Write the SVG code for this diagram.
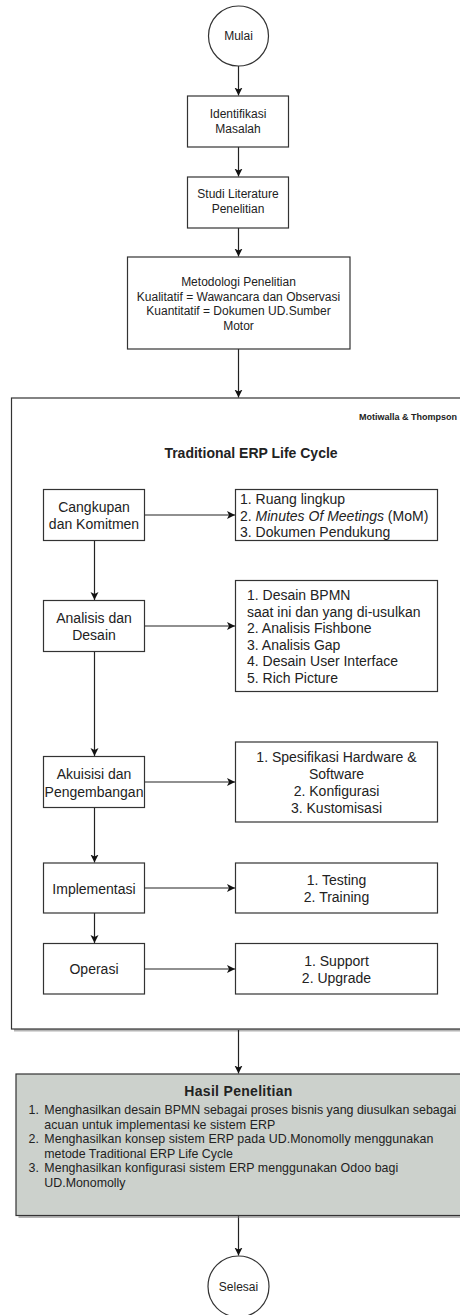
<svg xmlns="http://www.w3.org/2000/svg" width="460" height="1315" viewBox="0 0 460 1315">
<defs>
<style>
.box{fill:#fff;stroke:#333;stroke-width:1.2}
.sh{fill:#777;opacity:0.55}
.t12{font-family:"Liberation Sans",Arial,sans-serif;font-size:12px;fill:#222}
.t14{font-family:"Liberation Sans",Arial,sans-serif;font-size:14px;fill:#222}
.li{font-family:"Liberation Sans",Arial,sans-serif;font-size:12.4px;fill:#222}
.c{text-anchor:middle}
.b{font-weight:bold}
.ln{stroke:#222;stroke-width:1.2;fill:none;marker-end:url(#arr)}
</style>
<marker id="arr" viewBox="0 0 10 10" refX="10" refY="5" markerWidth="8" markerHeight="9" orient="auto" markerUnits="userSpaceOnUse">
<path d="M0,0 L10,5 L0,10 L2.5,5 z" fill="#111"/>
</marker>
</defs>
<rect width="460" height="1315" fill="#fff"/>

<g id="container">
<rect x="14" y="400.5" width="500" height="631" class="sh"/>
<rect x="11.5" y="398" width="500" height="631" class="box"/>
<text x="359" y="420" class="b" font-family="'Liberation Sans',Arial,sans-serif" font-size="9" fill="#222">Motiwalla &amp; Thompson</text>
<text x="251" y="458" class="t14 c b">Traditional ERP Life Cycle</text>
</g>

<g id="connectors">
<line class="ln" x1="238.5" y1="66" x2="238.5" y2="95.5"/>
<line class="ln" x1="238.5" y1="147" x2="238.5" y2="176.5"/>
<line class="ln" x1="238.5" y1="228" x2="238.5" y2="256.5"/>
<line class="ln" x1="238.5" y1="349" x2="238.5" y2="397.5"/>
<line class="ln" x1="144.5" y1="515" x2="235" y2="515"/>
<line class="ln" x1="94.5" y1="540.5" x2="94.5" y2="600"/>
<line class="ln" x1="144.5" y1="626" x2="235" y2="626"/>
<line class="ln" x1="94.5" y1="651" x2="94.5" y2="756"/>
<line class="ln" x1="144.5" y1="782" x2="235" y2="782"/>
<line class="ln" x1="94.5" y1="807.5" x2="94.5" y2="862.5"/>
<line class="ln" x1="144.5" y1="888" x2="235" y2="888"/>
<line class="ln" x1="94.5" y1="913" x2="94.5" y2="943"/>
<line class="ln" x1="144.5" y1="969" x2="235" y2="969"/>
<line class="ln" x1="238.5" y1="1030" x2="238.5" y2="1073.5"/>
<line class="ln" x1="238.5" y1="1216" x2="238.5" y2="1255.5"/>
</g>

<g id="mulai">
<circle cx="238.5" cy="36" r="30" class="box"/>
<text x="238.5" y="40" class="t12 c">Mulai</text>
</g>

<g id="identifikasi">
<rect x="187.5" y="96" width="101" height="51" class="box"/>
<text x="238" y="117.5" class="t12 c">Identifikasi</text>
<text x="238" y="133" class="t12 c">Masalah</text>
</g>

<g id="studi">
<rect x="187.5" y="177" width="101" height="51" class="box"/>
<text x="238" y="198" class="t12 c">Studi Literature</text>
<text x="238" y="213" class="t12 c">Penelitian</text>
</g>

<g id="metodologi">
<rect x="127.5" y="257" width="222.5" height="92" class="box"/>
<text x="238.5" y="286" class="t12 c">Metodologi Penelitian</text>
<text x="238.5" y="300.5" class="t12 c">Kualitatif = Wawancara dan Observasi</text>
<text x="238.5" y="315" class="t12 c">Kuantitatif = Dokumen UD.Sumber</text>
<text x="238.5" y="329.5" class="t12 c">Motor</text>
</g>

<g id="cangkupan">
<rect x="43.5" y="489.5" width="101" height="51" class="box"/>
<text x="94" y="512" class="t14 c">Cangkupan</text>
<text x="94" y="529" class="t14 c">dan Komitmen</text>
</g>

<g id="cangkupan-detail">
<rect x="235.5" y="489.5" width="202" height="51" class="box"/>
<text x="240" y="504" class="t14">1. Ruang lingkup</text>
<text x="240" y="521" class="t14">2. <tspan font-style="italic">Minutes Of Meetings</tspan> (MoM)</text>
<text x="240" y="537" class="t14">3. Dokumen Pendukung</text>
</g>

<g id="analisis">
<rect x="43.5" y="600.5" width="101" height="51" class="box"/>
<text x="94" y="623" class="t14 c">Analisis dan</text>
<text x="94" y="640" class="t14 c">Desain</text>
</g>

<g id="analisis-detail">
<rect x="235.5" y="580.5" width="202" height="111" class="box"/>
<text x="247" y="600" class="t14">1. Desain BPMN</text>
<text x="247" y="616.6" class="t14">saat ini dan yang di-usulkan</text>
<text x="247" y="633.2" class="t14">2. Analisis Fishbone</text>
<text x="247" y="649.8" class="t14">3. Analisis Gap</text>
<text x="247" y="666.4" class="t14">4. Desain User Interface</text>
<text x="247" y="683" class="t14">5. Rich Picture</text>
</g>

<g id="akuisisi">
<rect x="43.5" y="756.5" width="101" height="51" class="box"/>
<text x="94" y="779" class="t14 c">Akuisisi dan</text>
<text x="94" y="796.5" class="t14 c">Pengembangan</text>
</g>

<g id="akuisisi-detail">
<rect x="235.5" y="742" width="202" height="80" class="box"/>
<text x="336.5" y="761.5" class="t14 c">1. Spesifikasi Hardware &amp;</text>
<text x="336.5" y="778.5" class="t14 c">Software</text>
<text x="336.5" y="795.5" class="t14 c">2. Konfigurasi</text>
<text x="336.5" y="812.5" class="t14 c">3. Kustomisasi</text>
</g>

<g id="implementasi">
<rect x="43.5" y="863" width="101" height="50" class="box"/>
<text x="94" y="893.5" class="t14 c">Implementasi</text>
</g>

<g id="implementasi-detail">
<rect x="235.5" y="863" width="202" height="50" class="box"/>
<text x="336.5" y="885" class="t14 c">1. Testing</text>
<text x="336.5" y="901.5" class="t14 c">2. Training</text>
</g>

<g id="operasi">
<rect x="43.5" y="943.5" width="101" height="50.5" class="box"/>
<text x="94" y="974" class="t14 c">Operasi</text>
</g>

<g id="operasi-detail">
<rect x="235.5" y="943.5" width="202" height="50.5" class="box"/>
<text x="336.5" y="965.5" class="t14 c">1. Support</text>
<text x="336.5" y="982.5" class="t14 c">2. Upgrade</text>
</g>

<g id="hasil">
<rect x="18.5" y="1076.5" width="480" height="141.5" class="sh"/>
<rect x="16" y="1074" width="480" height="141.5" fill="#ccd1cc" stroke="#333" stroke-width="1.2"/>
<text x="238.5" y="1096" class="t14 c b" letter-spacing="0.3">Hasil Penelitian</text>
<text x="28.5" y="1114.3" class="li">1.</text>
<text x="44.3" y="1114.3" class="li" textLength="412" lengthAdjust="spacingAndGlyphs">Menghasilkan desain BPMN sebagai proses bisnis yang diusulkan sebagai</text>
<text x="44.3" y="1128.8" class="li" textLength="231" lengthAdjust="spacing">acuan untuk implementasi ke sistem ERP</text>
<text x="28.5" y="1143.3" class="li">2.</text>
<text x="44.3" y="1143.3" class="li" textLength="389" lengthAdjust="spacing">Menghasilkan konsep sistem ERP pada UD.Monomolly menggunakan</text>
<text x="44.3" y="1157.8" class="li">metode Traditional ERP Life Cycle</text>
<text x="28.5" y="1172.3" class="li">3.</text>
<text x="44.3" y="1172.3" class="li" textLength="354" lengthAdjust="spacing">Menghasilkan konfigurasi sistem ERP menggunakan Odoo bagi</text>
<text x="44.3" y="1186.8" class="li">UD.Monomolly</text>
</g>

<g id="selesai">
<circle cx="238.5" cy="1286.5" r="30.5" class="box"/>
<text x="238.5" y="1290.5" class="t12 c">Selesai</text>
</g>
</svg>
